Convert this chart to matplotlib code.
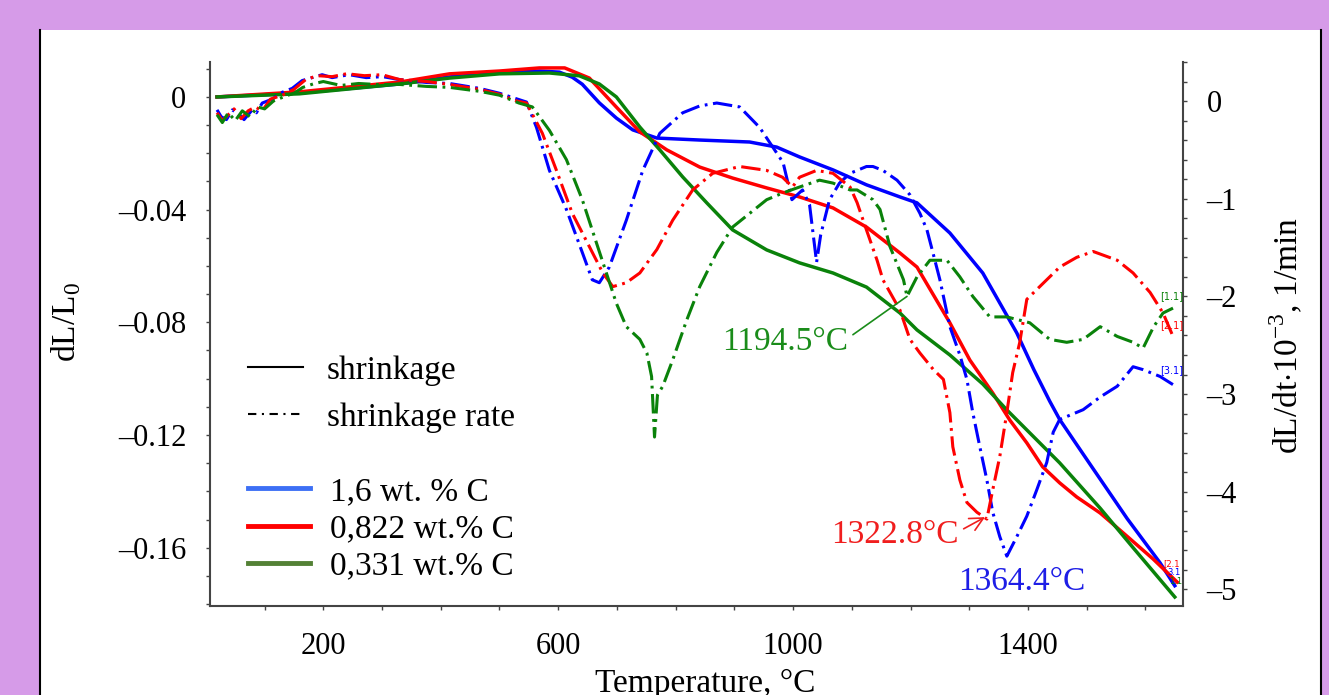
import numpy as np
import matplotlib
matplotlib.use("Agg")
import matplotlib.pyplot as plt
from matplotlib.ticker import MultipleLocator, FuncFormatter
from matplotlib.lines import Line2D
from matplotlib.patches import Rectangle

plt.rcParams['font.family'] = ['Liberation Serif', 'DejaVu Serif']
plt.rcParams['mathtext.fontset'] = 'custom'
plt.rcParams['mathtext.rm'] = 'Liberation Serif'
plt.rcParams['lines.scale_dashes'] = False

# ---- shrinkage dL/L0 (left axis) ----
t_sh_16 = [19, 159, 330, 415, 500, 568, 602, 624, 641, 670, 699, 727, 768, 841, 926, 972,
           1011, 1068, 1125, 1182, 1211, 1267, 1323, 1381, 1410, 1437, 1454, 1480, 1511,
           1569, 1625, 1650]
sh_16 = [0, 0.0014, 0.0046, 0.0071, 0.0085, 0.0092, 0.0088, 0.0070, 0.0045, -0.0021,
         -0.0075, -0.0117, -0.0146, -0.0153, -0.016, -0.0178, -0.0213, -0.0259, -0.0312,
         -0.0355, -0.0376, -0.0483, -0.0625, -0.0838, -0.0968, -0.1080, -0.1145, -0.1225,
         -0.1320, -0.1497, -0.1654, -0.1735]

t_sh_082 = [19, 159, 330, 415, 500, 568, 611, 653, 699, 739, 785, 841, 897, 955, 1011,
            1068, 1125, 1182, 1211, 1267, 1301, 1340, 1369, 1398, 1425, 1454, 1483, 1523,
            1569, 1613, 1654]
sh_082 = [0, 0.0018, 0.0053, 0.0082, 0.0092, 0.0103, 0.0103, 0.0067, -0.0036, -0.0124,
          -0.0188, -0.0249, -0.0288, -0.0323, -0.0355, -0.0394, -0.0462, -0.0554, -0.0604,
          -0.0802, -0.0934, -0.1051, -0.1147, -0.1228, -0.1313, -0.1370, -0.1420, -0.1477,
          -0.1560, -0.1640, -0.1722]

t_sh_033 = [19, 159, 330, 415, 500, 585, 636, 670, 699, 739, 773, 812, 853, 897, 955,
            1011, 1068, 1125, 1182, 1211, 1267, 1323, 1364, 1454, 1523, 1579, 1650]
sh_033 = [0, 0.0011, 0.0046, 0.0067, 0.0082, 0.0085, 0.0075, 0.0046, 0, -0.0107, -0.0188,
          -0.0284, -0.0376, -0.0472, -0.0543, -0.0589, -0.0625, -0.0675, -0.0767, -0.0827,
          -0.0916, -0.1019, -0.1111, -0.1299, -0.1460, -0.1600, -0.1775]

# ---- shrinkage rate dL/dt*10^-3 (right axis) ----
t_rt_16 = [19, 26, 35, 45, 57, 65, 79, 86, 96, 113, 130, 147, 164, 181, 198, 215, 244,
           273, 301, 330, 376, 415, 466, 500, 546, 563, 585, 614, 641, 658, 670, 687, 716,
           744, 773, 812, 841, 870, 909, 943, 983, 998, 1016, 1028, 1040, 1047, 1062, 1079,
           1097, 1125, 1136, 1153, 1177, 1199, 1216, 1228, 1238, 1250, 1267, 1284, 1296,
           1306, 1318, 1330, 1340, 1352, 1364, 1381, 1398, 1415, 1432, 1443, 1454, 1494,
           1523, 1552, 1579, 1596, 1625, 1654]
rt_16 = [-0.09, -0.16, -0.19, -0.09, -0.14, -0.19, -0.09, -0.12, -0.02, 0.02, 0.09, 0.13,
         0.21, 0.24, 0.27, 0.24, 0.27, 0.24, 0.25, 0.22, 0.19, 0.18, 0.13, 0.08, -0.01,
         -0.27, -0.71, -1.11, -1.55, -1.83, -1.86, -1.70, -1.22, -0.71, -0.33, -0.12, -0.05,
         -0.02, -0.06, -0.27, -0.63, -1.01, -0.91, -1.06, -1.65, -1.37, -1.01, -0.84, -0.74,
         -0.67, -0.67, -0.71, -0.81, -0.96, -1.15, -1.32, -1.55, -1.83, -2.31, -2.60, -2.85,
         -3.19, -3.54, -3.88, -4.21, -4.46, -4.66, -4.46, -4.25, -3.98, -3.70, -3.39, -3.26,
         -3.16, -3.03, -2.92, -2.72, -2.75, -2.82, -2.93]

t_rt_082 = [19, 28, 38, 48, 60, 72, 84, 96, 110, 130, 150, 170, 190, 215, 240, 270, 300,
            330, 376, 415, 466, 500, 530, 546, 573, 597, 624, 653, 676, 693, 716, 739, 768,
            795, 829, 863, 909, 955, 982, 999, 1011, 1040, 1068, 1097, 1109, 1125, 1143,
            1153, 1182, 1199, 1216, 1239, 1256, 1267, 1272, 1284, 1296, 1313, 1330, 1340,
            1352, 1364, 1374, 1386, 1398, 1420, 1437, 1454, 1483, 1511, 1552, 1579, 1608,
            1630, 1647]
rt_082 = [-0.12, -0.20, -0.14, -0.08, -0.18, -0.10, -0.06, -0.10, 0.02, 0.06, 0.12, 0.22,
          0.26, 0.25, 0.28, 0.26, 0.27, 0.22, 0.20, 0.17, 0.12, 0.07, 0.0, -0.02, -0.33,
          -0.71, -1.15, -1.49, -1.76, -1.90, -1.86, -1.76, -1.52, -1.22, -0.91, -0.74, -0.67,
          -0.71, -0.78, -0.88, -0.78, -0.71, -0.74, -0.88, -1.04, -1.32, -1.63, -1.83, -2.14,
          -2.44, -2.58, -2.75, -2.85, -3.19, -3.54, -3.88, -4.11, -4.21, -4.28, -3.98, -3.64,
          -3.19, -2.78, -2.47, -2.03, -1.90, -1.80, -1.70, -1.60, -1.54, -1.63, -1.76, -1.96,
          -2.17, -2.41]

t_rt_033 = [19, 28, 38, 50, 62, 75, 88, 100, 115, 135, 150, 165, 185, 200, 230, 260, 290,
            330, 376, 415, 466, 500, 533, 556, 585, 614, 641, 665, 682, 699, 716, 739, 751,
            759, 764, 769, 778, 795, 819, 841, 870, 897, 926, 955, 983, 1011, 1045, 1068,
            1097, 1109, 1136, 1148, 1165, 1188, 1194, 1211, 1233, 1262, 1284, 1306, 1335,
            1364, 1403, 1437, 1466, 1494, 1523, 1552, 1579, 1596, 1614, 1630, 1647]
rt_033 = [-0.14, -0.22, -0.12, -0.20, -0.10, -0.16, -0.06, -0.08, 0.0, 0.05, 0.08, 0.14,
          0.18, 0.20, 0.16, 0.18, 0.17, 0.17, 0.15, 0.14, 0.10, 0.06, -0.02, -0.06, -0.30,
          -0.60, -1.01, -1.45, -1.76, -2.07, -2.31, -2.44, -2.58, -2.82, -3.44, -3.01, -2.92,
          -2.65, -2.24, -1.90, -1.55, -1.29, -1.15, -1.01, -0.94, -0.88, -0.81, -0.84, -0.91,
          -0.91, -1.01, -1.11, -1.49, -1.83, -2.00, -1.80, -1.63, -1.63, -1.80, -2.00, -2.21,
          -2.21, -2.27, -2.44, -2.47, -2.44, -2.31, -2.41, -2.47, -2.53, -2.31, -2.17, -2.12]

labels = ['1,6 wt. % C', '0,822 wt.% C', '0,331 wt.% C']
line_colors = ['#0000ff', '#ff0000', '#0a820a']
legend_colors = ['#3d6ff5', '#ff0000', '#538135']

W, H = 1329, 695
fig = plt.figure(figsize=(W / 100, H / 100), dpi=100, facecolor='#d69be8')
fig.add_artist(Rectangle((40 / W, -0.1), (1321 - 40) / W, (H - 30) / H + 0.1,
                         transform=fig.transFigure, facecolor='white',
                         edgecolor='none', zorder=-10))
for xe in (40 / W, 1321 / W):
    fig.add_artist(Line2D([xe, xe], [0, (H - 30) / H], transform=fig.transFigure,
                          color='black', lw=1.5))

ax = fig.add_axes([210 / W, 89 / H, 973 / W, 544 / H])
ax.set_facecolor('white')
ax2 = ax.twinx()

ax.plot(t_sh_16, sh_16, color=line_colors[0], lw=2.5)
ax.plot(t_sh_082, sh_082, color=line_colors[1], lw=2.5)
ax.plot(t_sh_033, sh_033, color=line_colors[2], lw=2.5)

dd = (14, 4, 2, 4)
ax2.plot(t_rt_16, rt_16, color=line_colors[0], lw=2.2, dashes=dd)
ax2.plot(t_rt_082, rt_082, color=line_colors[1], lw=2.2, dashes=dd)
ax2.plot(t_rt_033, rt_033, color=line_colors[2], lw=2.2, dashes=dd)

ax.set_xlim(7, 1664)
ax.set_ylim(-0.1807, 0.0124)
ax2.set_ylim(-5.17, 0.40)

ax.set_xticks([200, 600, 1000, 1400])
ax.xaxis.set_minor_locator(MultipleLocator(100))
ax.set_yticks([0, -0.04, -0.08, -0.12, -0.16])
ax.yaxis.set_minor_locator(MultipleLocator(0.01))
ax.yaxis.set_major_formatter(FuncFormatter(
    lambda v, p: '0' if abs(v) < 1e-9 else ('%.2f' % v).replace('-', '\u2013')))
ax2.set_yticks([0, -1, -2, -3, -4, -5])
ax2.yaxis.set_minor_locator(MultipleLocator(0.2))
ax2.yaxis.set_major_formatter(FuncFormatter(
    lambda v, p: ('%d' % round(v)).replace('-', '\u2013')))

spine_c = '#444444'
for a in (ax, ax2):
    a.spines['top'].set_visible(False)
    for s in a.spines.values():
        s.set_color(spine_c)
        s.set_linewidth(1.5)
    a.tick_params(which='both', direction='out', length=3, width=1, color=spine_c)
ax.spines['right'].set_visible(False)
ax2.spines['left'].set_visible(False)
ax2.spines['bottom'].set_visible(False)
ax.tick_params(axis='y', labelsize=22, pad=14)
ax.tick_params(axis='x', labelsize=22, pad=16)
ax2.tick_params(axis='y', labelsize=22, pad=14)

ax.set_xlabel('Temperature, \u00b0C', fontsize=24)
ax.xaxis.set_label_coords(0.509, -0.114)
ax.set_ylabel(r'dL/L$_\mathregular{0}$', fontsize=24)
ax.yaxis.set_label_coords(-0.131, 0.522)
ax2.set_ylabel(r'dL/dt$\cdot$10$^\mathregular{-3}$, 1/min', fontsize=24)
ax2.yaxis.set_label_coords(1.087, 0.498)

# legends
h1 = [Line2D([], [], color='black', lw=1.5),
      Line2D([], [], color='black', lw=1.5, dashes=(6, 4, 1.5, 4))]
leg1 = ax2.legend(h1, ['shrinkage', 'shrinkage rate'], loc='upper left',
                  bbox_to_anchor=(0.039, 0.461), frameon=False, fontsize=24,
                  borderaxespad=0, borderpad=0, handlelength=1.65,
                  handletextpad=0.72, labelspacing=0.5)
ax2.add_artist(leg1)
h2 = [Line2D([], [], color=c, lw=3.5) for c in legend_colors]
ax2.legend(h2, labels, loc='upper left', bbox_to_anchor=(0.039, 0.238),
           frameon=False, fontsize=24, borderaxespad=0, borderpad=0,
           handlelength=1.86, handletextpad=0.6, labelspacing=0.2)

# peak annotations
ax2.annotate('1194.5\u00b0C', xy=(1194, -2.0), xytext=(986, -2.46),
             color='#1a8c1a', fontsize=24, ha='center', va='center',
             arrowprops=dict(arrowstyle='-', color='#1a8c1a', lw=1.2,
                             shrinkA=2, shrinkB=0, relpos=(1, 0.6)))
ax2.annotate('1322.8\u00b0C', xy=(1327, -4.26), xytext=(1173, -4.44),
             color='#f01e1e', fontsize=24, ha='center', va='center',
             arrowprops=dict(arrowstyle='->', color='#f01e1e', lw=1.2,
                             shrinkA=2, shrinkB=0, relpos=(1, 0.6)))
ax2.text(1390, -4.92, '1364.4\u00b0C', color='#1e1ee6', fontsize=24,
         ha='center', va='center')

# small curve tags
ax2.text(1645, -2.0, '[1.1]', color=line_colors[2], fontsize=7, ha='center', va='center',
         family='DejaVu Sans')
ax2.text(1645, -2.29, '[2.1]', color=line_colors[1], fontsize=7, ha='center', va='center',
         family='DejaVu Sans')
ax2.text(1645, -2.75, '[3.1]', color=line_colors[0], fontsize=7, ha='center', va='center',
         family='DejaVu Sans')
ax.text(1645, -0.1655, '[2.1', color=line_colors[1], fontsize=6, ha='center', va='center',
        family='DejaVu Sans')
ax.text(1649, -0.1688, '3.1', color=line_colors[0], fontsize=6, ha='center', va='center',
        family='DejaVu Sans')
ax.text(1652, -0.1721, '1.1', color=line_colors[2], fontsize=6, ha='center', va='center',
        family='DejaVu Sans')

fig.savefig('out.png', dpi=100, facecolor=fig.get_facecolor())
